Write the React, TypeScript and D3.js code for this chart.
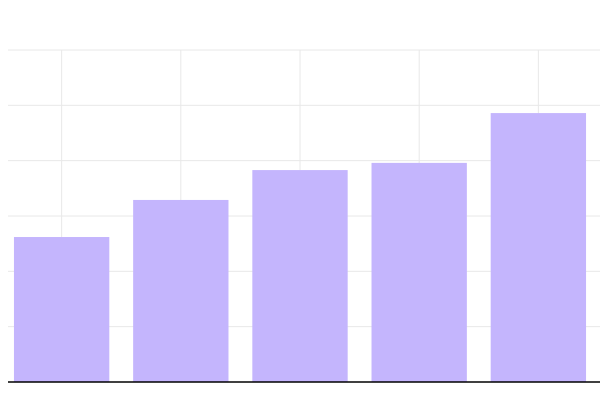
import { useRef, useEffect } from 'react';
import * as d3 from 'd3';

const categories = ['A', 'B', 'C', 'D', 'E'];
const values = [26.2, 32.9, 38.3, 39.6, 48.6];
const yTicks = [0, 10, 20, 30, 40, 50, 60];

export default function App() {
  const svgRef = useRef<SVGSVGElement>(null);

  useEffect(() => {
    if (!svgRef.current) return;

    const svg = d3.select(svgRef.current);
    svg.selectAll('*').remove();

    const width = 600;
    const height = 400;
    const margin = { top: 50, right: 0, bottom: 18, left: 8 };

    svg.attr('width', width).attr('height', height);

    // Scales
    const xScale = d3
      .scaleBand<string>()
      .domain(categories)
      .range([margin.left, 592])
      .paddingInner(0.2)
      .paddingOuter(0.05);

    const yScale = d3
      .scaleLinear()
      .domain([0, 60])
      .range([height - margin.bottom, margin.top]);

    const g = svg.append('g');

    // Horizontal grid
    g.append('g')
      .selectAll('line')
      .data(yTicks.slice(1))
      .join('line')
      .attr('x1', margin.left)
      .attr('x2', width - margin.right)
      .attr('y1', (d) => yScale(d))
      .attr('y2', (d) => yScale(d))
      .attr('stroke', '#e8e8e8')
      .attr('stroke-width', 1);

    // Vertical grid at band centers
    g.append('g')
      .selectAll('line')
      .data(categories)
      .join('line')
      .attr('x1', (d) => (xScale(d) ?? 0) + xScale.bandwidth() / 2)
      .attr('x2', (d) => (xScale(d) ?? 0) + xScale.bandwidth() / 2)
      .attr('y1', yScale(60))
      .attr('y2', yScale(0))
      .attr('stroke', '#e8e8e8')
      .attr('stroke-width', 1);

    // Bars
    g.append('g')
      .selectAll('rect')
      .data(values)
      .join('rect')
      .attr('x', (_d, i) => xScale(categories[i]) ?? 0)
      .attr('y', (d) => yScale(d))
      .attr('width', xScale.bandwidth())
      .attr('height', (d) => yScale(0) - yScale(d))
      .attr('fill', '#c4b5fd');

    // Baseline
    g.append('line')
      .attr('x1', margin.left)
      .attr('x2', width - margin.right)
      .attr('y1', yScale(0))
      .attr('y2', yScale(0))
      .attr('stroke', '#000')
      .attr('stroke-width', 1.5);
  }, []);

  return (
    <svg
      ref={svgRef}
      style={{ position: 'absolute', left: 0, top: 0, display: 'block' }}
    />
  );
}
